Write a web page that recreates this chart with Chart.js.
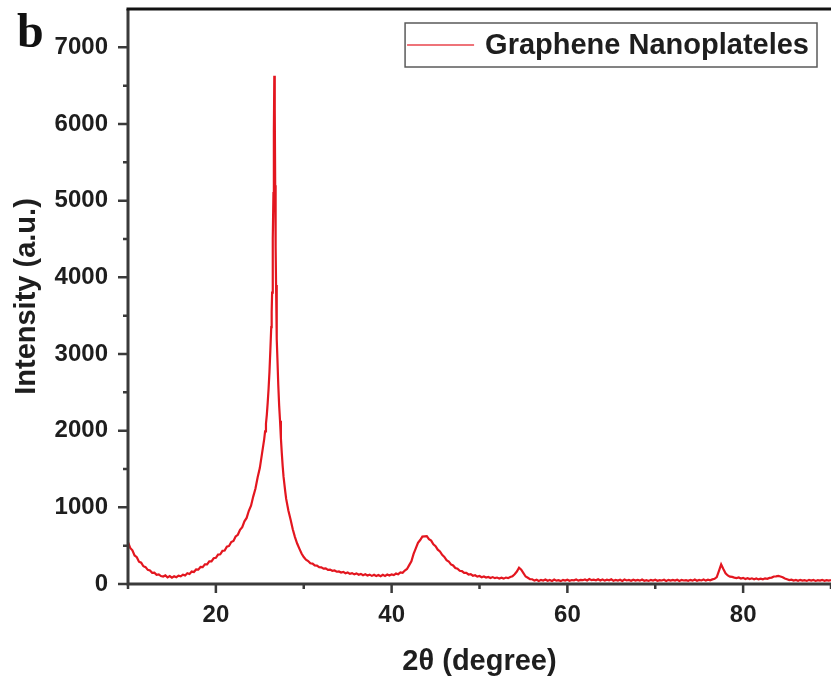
<!DOCTYPE html>
<html>
<head>
<meta charset="utf-8">
<title>Graphene Nanoplateles XRD</title>
<script src="https://cdn.jsdelivr.net/npm/chart.js@4.4.1/dist/chart.umd.min.js"></script>
<style>
  html, body { margin: 0; padding: 0; background: #fff; }
  #wrap { width: 831px; height: 682px; }
</style>
</head>
<body>
<div id="wrap"><canvas id="xrd" width="831" height="682"></canvas></div>
<script>
// 2θ positions (degree)
const twoTheta = [
  10, 10.25, 10.5, 10.75, 11, 11.25, 11.5, 11.75,
  12, 12.25, 12.5, 12.75, 13, 13.25, 13.5, 13.75,
  14, 14.25, 14.5, 14.75, 15, 15.25, 15.5, 15.75,
  16, 16.25, 16.5, 16.75, 17, 17.25, 17.5, 17.75,
  18, 18.25, 18.5, 18.75, 19, 19.25, 19.5, 19.75,
  20, 20.25, 20.5, 20.75, 21, 21.25, 21.5, 21.75,
  22, 22.25, 22.5, 22.75, 23, 23.25, 23.5, 23.75,
  24, 24.25, 24.5, 24.75, 25, 25.25,
  25.5, 25.6, 25.7, 25.8, 25.9, 26.0, 26.1, 26.2, 26.3,
  26.35, 26.4, 26.45, 26.5, 26.55, 26.6, 26.65, 26.7, 26.75, 26.8, 26.85, 26.9, 26.95, 27.0,
  27.1, 27.2, 27.3, 27.4, 27.5, 27.6, 27.7, 27.8, 27.9,
  28, 28.25, 28.5, 28.75, 29, 29.25, 29.5, 29.75,
  30, 30.25, 30.5, 30.75, 31, 31.25, 31.5, 31.75,
  32, 32.25, 32.5, 32.75, 33, 33.25, 33.5, 33.75,
  34, 34.25, 34.5, 34.75, 35, 35.25, 35.5, 35.75,
  36, 36.25, 36.5, 36.75, 37, 37.25, 37.5, 37.75,
  38, 38.25, 38.5, 38.75, 39, 39.25, 39.5, 39.75,
  40, 40.25, 40.5, 40.75, 41, 41.25, 41.5, 41.75,
  42, 42.25, 42.5, 42.75, 43, 43.25, 43.5, 43.75,
  44, 44.25, 44.5, 44.75, 45, 45.25, 45.5, 45.75,
  46, 46.25, 46.5, 46.75, 47, 47.25, 47.5, 47.75,
  48, 48.25, 48.5, 48.75, 49, 49.25, 49.5, 49.75,
  50, 50.25, 50.5, 50.75, 51, 51.25, 51.5, 51.75,
  52, 52.25, 52.5, 52.75, 53, 53.25, 53.5, 53.75,
  54, 54.25, 54.5, 54.75, 55, 55.25, 55.5, 55.75,
  56, 56.25, 56.5, 56.75, 57, 57.25, 57.5, 57.75,
  58, 58.25, 58.5, 58.75, 59, 59.25, 59.5, 59.75,
  60, 60.25, 60.5, 60.75, 61, 61.25, 61.5, 61.75,
  62, 62.25, 62.5, 62.75, 63, 63.25, 63.5, 63.75,
  64, 64.25, 64.5, 64.75, 65, 65.25, 65.5, 65.75,
  66, 66.25, 66.5, 66.75, 67, 67.25, 67.5, 67.75,
  68, 68.25, 68.5, 68.75, 69, 69.25, 69.5, 69.75,
  70, 70.25, 70.5, 70.75, 71, 71.25, 71.5, 71.75,
  72, 72.25, 72.5, 72.75, 73, 73.25, 73.5, 73.75,
  74, 74.25, 74.5, 74.75, 75, 75.25, 75.5, 75.75,
  76, 76.25, 76.5, 76.75, 77, 77.25, 77.5, 77.75,
  78, 78.25, 78.5, 78.75, 79, 79.25, 79.5, 79.75,
  80, 80.25, 80.5, 80.75, 81, 81.25, 81.5, 81.75,
  82, 82.25, 82.5, 82.75, 83, 83.25, 83.5, 83.75,
  84, 84.25, 84.5, 84.75, 85, 85.25, 85.5, 85.75,
  86, 86.25, 86.5, 86.75, 87, 87.25, 87.5, 87.75,
  88, 88.25, 88.5, 88.75, 89, 89.25, 89.5, 89.75,
  90
];

// intensity (a.u.), one row per row above
const intensity = [
  545, 470, 440, 372, 350, 292, 278, 232,
  220, 184, 176, 146, 148, 120, 126, 104,
  98, 112, 86, 104, 82, 100, 88, 108,
  100, 122, 112, 140, 130, 162, 156, 190,
  188, 222, 220, 256, 256, 296, 296, 336,
  342, 384, 388, 432, 436, 486, 496, 548,
  562, 620, 642, 708, 742, 818, 862, 955,
  1022, 1140, 1242, 1390, 1512, 1700,
  1890, 1990, 2090, 2210, 2370, 2550, 2770, 3050, 3350,
  3550, 3800, 4150, 4500, 5100, 5900, 6630, 6200, 5200, 4400, 3900, 3500, 3200, 2950,
  2600, 2330, 2130, 1900, 1710, 1540, 1400, 1300, 1200,
  1110, 960, 842, 715, 612, 528, 462, 398,
  352, 318, 300, 270, 266, 242, 240, 220,
  218, 200, 204, 184, 188, 172, 176, 160,
  164, 150, 158, 140, 150, 132, 142, 126,
  138, 120, 132, 114, 126, 110, 122, 106,
  120, 104, 118, 102, 120, 106, 124, 110,
  126, 116, 136, 128, 150, 146, 176, 196,
  246, 296, 392, 464, 536, 574, 618, 622,
  624, 584, 566, 518, 494, 448, 424, 380,
  354, 312, 294, 256, 242, 208, 200, 172,
  168, 144, 144, 124, 128, 108, 114, 96,
  104, 88, 98, 84, 92, 78, 90, 76,
  84, 72, 82, 70, 84, 76, 92, 100,
  128, 162, 212, 186, 142, 98, 82, 64,
  62, 44, 56, 40, 54, 46, 58, 42,
  52, 40, 58, 44, 50, 38, 54, 44,
  56, 42, 52, 48, 58, 44, 54, 50,
  60, 46, 64, 50, 56, 48, 62, 46,
  58, 44, 56, 48, 62, 42, 54, 46,
  56, 40, 58, 46, 52, 42, 56, 44,
  54, 44, 58, 42, 50, 40, 54, 46,
  56, 42, 50, 46, 56, 40, 54, 44,
  52, 44, 56, 40, 54, 46, 50, 42,
  54, 44, 58, 42, 52, 46, 58, 44,
  56, 48, 60, 68, 90, 170, 255, 195,
  140, 112, 96, 92, 84, 78, 86, 72,
  80, 66, 76, 64, 74, 62, 72, 60,
  70, 62, 74, 68, 80, 84, 98, 100,
  106, 98, 88, 72, 62, 52, 56, 44,
  52, 42, 54, 44, 50, 40, 54, 44,
  52, 40, 50, 44, 54, 42, 50, 44,
  50
];

// tick marks / labels
const xMajorTicks = [20, 40, 60, 80];
const xMinorTicks = [10, 30, 50, 70, 90];
const yMajorTicks = [0, 1000, 2000, 3000, 4000, 5000, 6000, 7000];
const yMinorTicks = [500, 1500, 2500, 3500, 4500, 5500, 6500];

const seriesLabel = 'Graphene Nanoplateles';
const lineColor = '#e3161f';
const inkColor = '#1e1e1e';
const fontFamily = '"Liberation Sans", Arial, Helvetica, sans-serif';

// axes frame, tick marks, inset legend and panel letter
const framePlugin = {
    id: 'frame',
    afterDraw(chart) {
        const { ctx, chartArea: a, scales: { x, y } } = chart;
        ctx.save();

        // tick marks (outward)
        ctx.strokeStyle = '#3a3a3a';
        ctx.lineWidth = 2.5;
        ctx.beginPath();
        xMajorTicks.forEach(v => { const p = x.getPixelForValue(v); ctx.moveTo(p, a.bottom); ctx.lineTo(p, a.bottom + 9); });
        xMinorTicks.forEach(v => { const p = x.getPixelForValue(v); ctx.moveTo(p, a.bottom); ctx.lineTo(p, a.bottom + 5); });
        yMajorTicks.forEach(v => { const p = y.getPixelForValue(v); ctx.moveTo(a.left, p); ctx.lineTo(a.left - 10, p); });
        yMinorTicks.forEach(v => { const p = y.getPixelForValue(v); ctx.moveTo(a.left, p); ctx.lineTo(a.left - 5, p); });
        ctx.stroke();

        // left + bottom axes
        ctx.lineWidth = 3;
        ctx.beginPath();
        ctx.moveTo(a.left, a.top);
        ctx.lineTo(a.left, a.bottom);
        ctx.lineTo(a.right, a.bottom);
        ctx.stroke();

        // top border
        ctx.strokeStyle = '#111';
        ctx.beginPath();
        ctx.moveTo(a.left - 1.5, a.top);
        ctx.lineTo(a.right, a.top);
        ctx.stroke();

        // legend box
        ctx.font = 'bold 29px ' + fontFamily;
        const tw = ctx.measureText(seriesLabel).width;
        const boxRight = a.right - 14;
        const boxLeft = boxRight - tw - 88;
        const boxTop = a.top + 14;
        const boxH = 44;
        ctx.fillStyle = '#fff';
        ctx.fillRect(boxLeft, boxTop, boxRight - boxLeft, boxH);
        ctx.strokeStyle = '#5a5a5a';
        ctx.lineWidth = 1.5;
        ctx.strokeRect(boxLeft, boxTop, boxRight - boxLeft, boxH);
        const ds = chart.data.datasets[0];
        ctx.strokeStyle = ds.borderColor;
        ctx.globalAlpha = 0.6;
        ctx.lineWidth = 2;
        ctx.beginPath();
        ctx.moveTo(boxLeft + 2, boxTop + boxH / 2);
        ctx.lineTo(boxLeft + 69, boxTop + boxH / 2);
        ctx.stroke();
        ctx.globalAlpha = 1;
        ctx.fillStyle = inkColor;
        ctx.textAlign = 'left';
        ctx.textBaseline = 'middle';
        ctx.fillText(ds.label, boxLeft + 80, boxTop + boxH / 2 + 1);

        // panel letter
        ctx.font = 'bold 48px "Liberation Serif", "Times New Roman", serif';
        ctx.textBaseline = 'alphabetic';
        ctx.fillStyle = '#111';
        ctx.fillText('b', 17, 47);

        ctx.restore();
    }
};

const points = twoTheta.map((t, i) => ({ x: t, y: intensity[i] }));

new Chart(document.getElementById('xrd'), {
    type: 'line',
    data: {
        datasets: [{
            label: seriesLabel,
            data: points,
            borderColor: lineColor,
            borderWidth: 2.2,
            pointRadius: 0,
            tension: 0,
            fill: false
        }]
    },
    options: {
        responsive: false,
        animation: false,
        layout: { padding: { top: 9, right: 0, left: 0, bottom: 0 } },
        plugins: {
            legend: { display: false },
            tooltip: { enabled: false }
        },
        scales: {
            x: {
                type: 'linear',
                min: 10,
                max: 90,
                // tick marks come from the frame plugin; tickLength only offsets labels
                grid: { display: false, drawTicks: true, tickLength: 17, tickColor: 'rgba(0,0,0,0)' },
                border: { display: false },
                ticks: {
                    autoSkip: false,
                    maxRotation: 0,
                    padding: 0,
                    color: inkColor,
                    font: { family: fontFamily, size: 24, weight: 'bold' },
                    callback: v => String(v)
                },
                title: {
                    display: true,
                    text: '2θ (degree)',
                    color: inkColor,
                    font: { family: fontFamily, size: 29, weight: 'bold' },
                    padding: { top: 0, bottom: 3 }
                },
                afterBuildTicks: s => { s.ticks = xMajorTicks.map(v => ({ value: v })); },
                afterFit: s => { s.height = 98; s.paddingLeft = 0; s.paddingRight = 0; }
            },
            y: {
                min: 0,
                max: 7500,
                grid: { display: false, drawTicks: true, tickLength: 20, tickColor: 'rgba(0,0,0,0)' },
                border: { display: false },
                ticks: {
                    autoSkip: false,
                    padding: 0,
                    color: inkColor,
                    font: { family: fontFamily, size: 24, weight: 'bold' },
                    callback: v => String(v)
                },
                title: {
                    display: true,
                    text: 'Intensity (a.u.)',
                    color: inkColor,
                    font: { family: fontFamily, size: 29, weight: 'bold' },
                    padding: { top: 10, bottom: 0 }
                },
                afterBuildTicks: s => { s.ticks = yMajorTicks.map(v => ({ value: v })); },
                afterFit: s => { s.width = 128; s.paddingTop = 0; s.paddingBottom = 0; }
            }
        }
    },
    plugins: [framePlugin]
});
</script>
</body>
</html>
